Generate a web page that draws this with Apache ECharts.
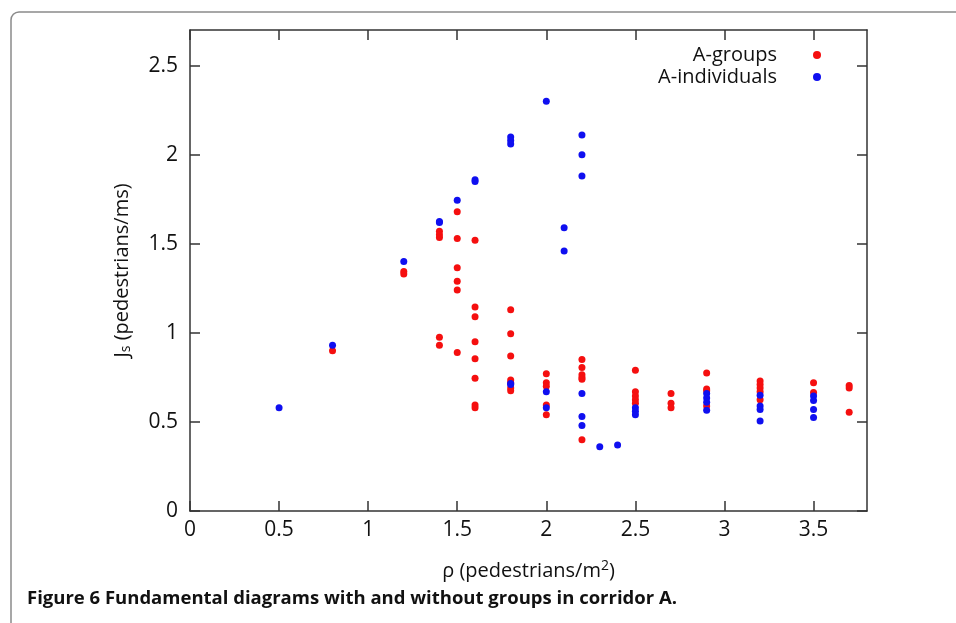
<!DOCTYPE html>
<html>
<head>
<meta charset="utf-8">
<title>Figure 6</title>
<script src="https://cdn.jsdelivr.net/npm/echarts@6/dist/echarts.min.js"></script>
<style>
html,body{margin:0;padding:0;background:#fff;}
#chart{width:956px;height:623px;}
</style>
</head>
<body>
<div id="chart"></div>
<script>
// A-groups (red)
var groupRho = [0.8, 1.2, 1.2, 1.4, 1.4, 1.4, 1.4, 1.4, 1.5, 1.5, 1.5, 1.5, 1.5, 1.5,
	1.6, 1.6, 1.6, 1.6, 1.6, 1.6, 1.6, 1.6, 1.8, 1.8, 1.8, 1.8, 1.8, 1.8, 1.8,
	2.0, 2.0, 2.0, 2.0, 2.0, 2.2, 2.2, 2.2, 2.2, 2.2, 2.2, 2.5, 2.5, 2.5, 2.5, 2.5,
	2.7, 2.7, 2.7, 2.9, 2.9, 2.9, 2.9, 3.2, 3.2, 3.2, 3.2, 3.2, 3.5, 3.5, 3.7, 3.7, 3.7];
var groupJs = [0.90, 1.345, 1.33, 1.57, 1.55, 1.535, 0.975, 0.93, 1.68, 1.53, 1.365, 1.29, 1.24, 0.89,
	1.52, 1.145, 1.09, 0.95, 0.855, 0.745, 0.595, 0.58, 1.13, 0.995, 0.87, 0.735, 0.72, 0.69, 0.675,
	0.77, 0.72, 0.70, 0.595, 0.54, 0.85, 0.805, 0.765, 0.75, 0.74, 0.40, 0.79, 0.67, 0.645, 0.625, 0.605,
	0.66, 0.605, 0.58, 0.775, 0.685, 0.675, 0.59, 0.73, 0.71, 0.69, 0.67, 0.625, 0.72, 0.665, 0.705, 0.69, 0.555];

// A-individuals (blue)
var indivRho = [0.5, 0.8, 1.2, 1.4, 1.4, 1.5, 1.6, 1.6, 1.8, 1.8, 1.8, 1.8, 1.8,
	2.0, 2.0, 2.0, 2.1, 2.1, 2.2, 2.2, 2.2, 2.2, 2.2, 2.2, 2.3, 2.4, 2.5, 2.5, 2.5,
	2.9, 2.9, 2.9, 2.9, 3.2, 3.2, 3.2, 3.2, 3.5, 3.5, 3.5, 3.5];
var indivJs = [0.58, 0.93, 1.40, 1.625, 1.62, 1.745, 1.86, 1.85, 2.10, 2.08, 2.06, 0.715, 0.71,
	2.30, 0.67, 0.58, 1.59, 1.46, 2.11, 2.00, 1.88, 0.66, 0.53, 0.48, 0.36, 0.37, 0.58, 0.56, 0.54,
	0.66, 0.635, 0.61, 0.565, 0.65, 0.59, 0.57, 0.505, 0.645, 0.62, 0.57, 0.525];

var xTicks = [0, 0.5, 1, 1.5, 2, 2.5, 3, 3.5];
var yTicks = [0, 0.5, 1, 1.5, 2, 2.5];

var seriesNames = ['A-groups', 'A-individuals'];
var seriesColors = ['#f50f0f', '#0f0ff0'];

function zip(xs, ys){
	var out = [];
	for(var i = 0; i < xs.length; i++){
		out.push([xs[i], ys[i]]);
	}
	return out;
}

var tickFont = "'Open Sans', sans-serif";
var lineCol = '#333';

function boxAxis(pos, min, max, ticks, isX, showLabels){
	return {
		type: 'value',
		position: pos,
		min: min,
		max: max,
		interval: 0.5,
		splitLine: {show: false},
		axisLine: {show: true, onZero: false, lineStyle: {color: lineCol, width: 1.5}},
		axisTick: {show: true, inside: true, length: 10, lineStyle: {color: lineCol, width: 1.5},
			customValues: ticks},
		axisLabel: {show: showLabels, color: '#111', fontSize: 21,
			fontFamily: tickFont, margin: isX ? 9 : 12, customValues: ticks,
			formatter: function(v){ return String(v); }}
	};
}

var chart = echarts.init(document.getElementById('chart'), null, {renderer: 'canvas'});

var xMain = boxAxis('bottom', 0, 3.8, xTicks, true, true);
xMain.name = '{a|ρ (pedestrians/m}{sup|2}{a|)}';
xMain.nameLocation = 'middle';
xMain.nameGap = 48;
xMain.nameTextStyle = {
	rich: {
		a: {fontSize: 20, fontFamily: tickFont, color: '#111', lineHeight: 24},
		sup: {fontSize: 14, fontFamily: tickFont, color: '#111', lineHeight: 24, padding: [0, 0, 9, 0]}
	}
};
var yMain = boxAxis('left', 0, 2.7, yTicks, false, true);
yMain.name = '{a|J}{sub|s}{a| (pedestrians/ms)}';
yMain.nameLocation = 'middle';
yMain.nameGap = 56;
yMain.nameTextStyle = {
	rich: {
		a: {fontSize: 20, fontFamily: tickFont, color: '#111', lineHeight: 24},
		sub: {fontSize: 14, fontFamily: tickFont, color: '#111', lineHeight: 24, padding: [9, 0, 0, 0]}
	}
};

var option = {
	backgroundColor: '#fff',
	animation: false,
	grid: {left: 190, top: 30, right: 89, bottom: 112},
	legend: {
		orient: 'vertical',
		right: 130,
		top: 40,
		itemGap: 2,
		itemWidth: 8,
		itemHeight: 8,
		align: 'right',
		icon: 'circle',
		data: seriesNames,
		formatter: function(name){ return '{a|' + name + '}'; },
		textStyle: {
			rich: {
				a: {fontSize: 20, fontFamily: tickFont, color: '#111', width: 140, align: 'right',
					lineHeight: 22, padding: [0, 31, 0, 0]}
			}
		}
	},
	xAxis: [xMain, boxAxis('top', 0, 3.8, xTicks, true, false)],
	yAxis: [yMain, boxAxis('right', 0, 2.7, yTicks, false, false)],
	series: [
		{
			name: seriesNames[0],
			type: 'scatter',
			symbolSize: 7,
			itemStyle: {color: seriesColors[0], opacity: 1},
			data: zip(groupRho, groupJs)
		},
		{
			name: seriesNames[1],
			type: 'scatter',
			symbolSize: 7,
			itemStyle: {color: seriesColors[1], opacity: 1},
			data: zip(indivRho, indivJs)
		}
	],
	graphic: [
		{
			type: 'rect',
			shape: {x: 11, y: 12, width: 980, height: 640, r: 8},
			style: {fill: 'none', stroke: '#8a8a8a', lineWidth: 1.5},
			silent: true
		},
		{
			type: 'text',
			left: 27,
			top: 589,
			style: {
				text: 'Figure 6 Fundamental diagrams with and without groups in corridor A.',
				font: "bold 18.5px 'Open Sans', Lato, sans-serif",
				fill: '#111'
			}
		}
	]
};

chart.setOption(option);
</script>
</body>
</html>
